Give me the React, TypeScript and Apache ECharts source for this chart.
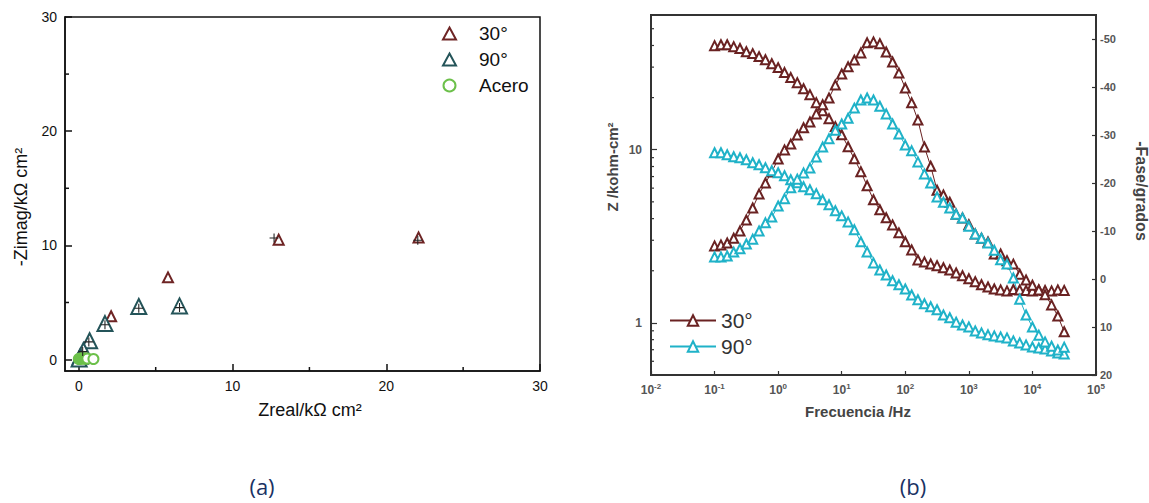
import React, { useEffect, useRef } from 'react';
import * as echarts from 'echarts';

// ---------- (a) Nyquist data (kΩ cm²) ----------
const nyq30 = [[22.1, 10.7], [13.0, 10.5], [5.8, 7.2], [2.1, 3.8]];
const nyq90 = [[6.55, 4.7], [3.9, 4.65], [1.7, 3.15], [0.7, 1.65], [0.3, 0.8], [0.1, 0.3], [0.02, 0.05]];
const nyqAcero = [[0.0, 0.05], [0.08, 0.1], [0.15, 0.1], [0.22, 0.1], [0.3, 0.12], [0.38, 0.1], [0.46, 0.1], [0.55, 0.1], [0.95, 0.05]];
const nyqFit = [[12.7, 10.65], [22.05, 10.45], [6.55, 4.55], [3.9, 4.5], [1.7, 3.05], [0.65, 1.55], [0.25, 0.7]];
const nyqTicks = [0, 10, 20, 30];
const nyqMinorTicks = [5, 15, 25];

// ---------- (b) Bode data ----------
const freq = [
  0.1, 0.126, 0.158, 0.2, 0.251, 0.316, 0.398, 0.501, 0.631, 0.794,
  1, 1.26, 1.58, 2, 2.51, 3.16, 3.98, 5.01, 6.31, 7.94,
  10, 12.6, 15.8, 20, 25.1, 31.6, 39.8, 50.1, 63.1, 79.4,
  100, 126, 158, 200, 251, 316, 398, 501, 631, 794,
  1000, 1260, 1580, 2000, 2510, 3160, 3980, 5010, 6310, 7940,
  10000, 12600, 15800, 20000, 25100, 31600,
];
const z30 = [
  39.9, 40.4, 40.4, 39.4, 38.4, 36.8, 35.9, 34.5, 33.1, 31.4,
  29.8, 27.9, 26.1, 24.4, 22.5, 20.8, 18.7, 16.8, 15.1, 13.6,
  12.2, 10.4, 8.87, 7.46, 6.19, 5.14, 4.5, 4.05, 3.68, 3.31,
  2.94, 2.64, 2.31, 2.25, 2.19, 2.14, 2.08, 2.02, 1.94, 1.87,
  1.8, 1.73, 1.66, 1.61, 1.57, 1.55, 1.53, 1.56, 1.55, 1.54,
  1.53, 1.55, 1.54, 1.53, 1.55, 1.54,
];
const phase30 = [
  6.9, 7.1, 7.5, 8.5, 10.0, 12.3, 14.8, 17.7, 20.0, 22.3,
  25.0, 26.9, 28.1, 30.0, 31.5, 32.7, 34.4, 36.3, 37.7, 40.4,
  42.7, 44.2, 45.6, 47.1, 49.2, 49.4, 49.0, 47.3, 45.2, 42.9,
  39.8, 36.7, 33.1, 27.5, 23.5, 18.5, 17.5, 16.0, 13.5, 12.7,
  11.3, 9.4, 8.5, 7.7, 5.2, 5.2, 3.8, 3.1, 1.0, -0.2,
  -1.3, -2.3, -3.3, -5.4, -7.7, -11.0,
];
const z90 = [
  9.61, 9.61, 9.36, 9.11, 8.99, 8.75, 8.41, 8.19, 7.87, 7.56,
  7.36, 7.08, 6.71, 6.45, 6.11, 5.87, 5.57, 5.14, 4.81, 4.44,
  4.15, 3.83, 3.45, 2.94, 2.57, 2.22, 2.02, 1.89, 1.75, 1.66,
  1.57, 1.45, 1.36, 1.29, 1.24, 1.19, 1.11, 1.07, 1.01, 0.973,
  0.948, 0.899, 0.875, 0.853, 0.841, 0.83, 0.819, 0.787, 0.766, 0.746,
  0.726, 0.716, 0.707, 0.689, 0.671, 0.662,
];
const phase90 = [
  4.6, 4.6, 4.8, 5.6, 6.3, 7.3, 8.3, 10.0, 11.7, 12.9,
  15.2, 16.7, 19.0, 20.8, 22.1, 23.1, 25.4, 27.5, 29.2, 31.0,
  32.3, 33.5, 35.6, 37.3, 37.7, 37.3, 36.0, 34.4, 32.3, 30.2,
  27.9, 26.7, 24.4, 21.9, 20.0, 17.1, 16.0, 14.8, 13.5, 12.7,
  11.0, 9.4, 8.5, 7.5, 6.0, 4.0, 3.1, 0.2, -4.2, -7.5,
  -10.0, -11.7, -13.1, -14.0, -14.8, -14.2,
];
const zMinorTicks = [0.6, 0.7, 0.8, 0.9, 2, 3, 4, 5, 6, 7, 8, 9, 20, 30, 40, 50];

const FONT = '"Liberation Sans", Arial, sans-serif';
const C30 = '#6a2222';
const C90 = '#1fb2c8';
const N30 = '#6e2424';
const N90 = '#245459';
const ACERO = '#6cc04a';
const legendNames: Record<string, string> = { N30: '30°', N90: '90°', Acero: 'Acero' };

function minorTick(kind: 'x' | 'y', len: number, color: string, width: number) {
  return (params: any, api: any) => {
    const cs = params.coordSys;
    const p = api.coord([api.value(0), api.value(1)]);
    const shape =
      kind === 'x'
        ? { x1: p[0], y1: cs.y + cs.height, x2: p[0], y2: cs.y + cs.height - len }
        : { x1: cs.x, y1: p[1], x2: cs.x + len, y2: p[1] };
    return { type: 'line', shape, style: { stroke: color, lineWidth: width } };
  };
}

const pair = (ys: number[]) => freq.map((f, i) => [f, ys[i]]);

function buildOption(): any {
  const boldLbl = { color: '#555', fontSize: 12, fontWeight: 'bold', fontFamily: FONT };
  const lineSeries = (name: string, color: string, data: number[], yIdx: number) => ({
    type: 'line',
    name,
    xAxisIndex: 1,
    yAxisIndex: yIdx,
    data: pair(data),
    symbol: 'emptyTriangle',
    symbolSize: 9,
    showSymbol: true,
    lineStyle: { color, width: 1 },
    itemStyle: { color, borderColor: color, borderWidth: 1.7, opacity: 1 },
    emphasis: { disabled: true },
    silent: true,
    z: 3,
  });
  return {
    animation: false,
    backgroundColor: '#ffffff',
    textStyle: { fontFamily: FONT },
    grid: [
      { left: 65, top: 17, width: 475, height: 354, show: true, borderColor: '#111', borderWidth: 1.5, outerBoundsMode: 'none', containLabel: false },
      { left: 651, top: 15, width: 445, height: 360, show: true, borderColor: '#333', borderWidth: 2, outerBoundsMode: 'none', containLabel: false },
    ],
    xAxis: [
      {
        gridIndex: 0, type: 'value', min: -0.9, max: 30,
        axisLine: { show: true, onZero: false, lineStyle: { color: '#111', width: 1.5 } },
        axisTick: { show: true, inside: true, length: 7, customValues: nyqTicks, lineStyle: { color: '#111', width: 1.5 } },
        axisLabel: { customValues: nyqTicks, color: '#111', fontSize: 14, margin: 8, fontFamily: FONT },
        splitLine: { show: false },
      },
      {
        gridIndex: 1, type: 'log', logBase: 10, min: 0.01, max: 100000, splitNumber: 7,
        axisLine: { show: true, onZero: false, lineStyle: { color: '#333', width: 2 } },
        axisTick: { show: true, inside: true, length: 4, lineStyle: { color: '#333', width: 1.2 } },
        axisLabel: {
          margin: 7,
          formatter: (v: number) => {
            const e = Math.round(Math.log10(v));
            return `{b|10}{s|${e}}`;
          },
          rich: {
            b: { ...boldLbl, fontSize: 12 },
            s: { ...boldLbl, fontSize: 8, padding: [0, 0, 7, 0] },
          },
        },
        splitLine: { show: false },
        minorTick: { show: false },
      },
    ],
    yAxis: [
      {
        gridIndex: 0, type: 'value', min: -1, max: 30,
        axisLine: { show: true, onZero: false, lineStyle: { color: '#111', width: 1.5 } },
        axisTick: { show: true, inside: true, length: 7, customValues: nyqTicks, lineStyle: { color: '#111', width: 1.5 } },
        axisLabel: { customValues: nyqTicks, color: '#111', fontSize: 14, margin: 8, fontFamily: FONT },
        splitLine: { show: false },
      },
      {
        gridIndex: 1, type: 'log', logBase: 10, min: 0.5, max: 60, splitNumber: 2,
        axisLine: { show: true, onZero: false, lineStyle: { color: '#333', width: 2 } },
        axisTick: { show: true, inside: true, length: 6, lineStyle: { color: '#333', width: 1.2 } },
        axisLabel: { ...boldLbl, margin: 9, showMinLabel: false, showMaxLabel: false, formatter: (v: number) => String(Math.round(v)) },
        splitLine: { show: false },
      },
      {
        gridIndex: 1, type: 'value', position: 'right', min: -20, max: 55, interval: 10,
        axisLine: { show: true, onZero: false, lineStyle: { color: '#333', width: 2 } },
        axisTick: { show: true, inside: true, length: 4, lineStyle: { color: '#333', width: 1.2 } },
        axisLabel: { ...boldLbl, fontSize: 11, margin: 4, showMaxLabel: false, formatter: (v: number) => (v === 0 ? '0' : String(-v)) },
        splitLine: { show: false },
      },
    ],
    legend: [
      {
        data: ['N30', 'N90', 'Acero'],
        formatter: (n: string) => legendNames[n] ?? n,
        orient: 'vertical', left: 437, top: 19, itemWidth: 13, itemHeight: 12, itemGap: 7,
        textStyle: { fontSize: 19, color: '#111', fontFamily: FONT, padding: [0, 0, 0, 18] },
        itemStyle: { opacity: 1 },
        selectedMode: false,
      },
      {
        data: ['30°', '90°'],
        orient: 'vertical', left: 664, top: 305, itemWidth: 46, itemHeight: 13, itemGap: 5,
        textStyle: { fontSize: 21, color: '#333', fontFamily: FONT },
        selectedMode: false,
      },
    ],
    series: [
      { type: 'custom', name: 'nxMinor', xAxisIndex: 0, yAxisIndex: 0, silent: true, data: nyqMinorTicks.map((v) => [v, 0]), renderItem: minorTick('x', 4, '#111', 1.5) },
      { type: 'custom', name: 'nyMinor', xAxisIndex: 0, yAxisIndex: 0, silent: true, data: nyqMinorTicks.map((v) => [0, v]), renderItem: minorTick('y', 4, '#111', 1.5) },
      { type: 'custom', name: 'zMinor', xAxisIndex: 1, yAxisIndex: 1, silent: true, data: zMinorTicks.map((v) => [1, v]), renderItem: minorTick('y', 3, '#333', 1.2) },
      {
        type: 'scatter', name: 'N30', xAxisIndex: 0, yAxisIndex: 0, data: nyq30,
        symbol: 'emptyTriangle', symbolSize: 10, itemStyle: { color: N30, borderColor: N30, borderWidth: 1.6, opacity: 1 }, silent: true,
      },
      {
        type: 'scatter', name: 'N90', xAxisIndex: 0, yAxisIndex: 0, data: nyq90,
        symbol: 'emptyTriangle', symbolSize: 15, itemStyle: { color: N90, borderColor: N90, borderWidth: 1.8, opacity: 1 }, silent: true,
      },
      {
        type: 'scatter', name: 'Acero', xAxisIndex: 0, yAxisIndex: 0, data: nyqAcero,
        symbol: 'emptyCircle', symbolSize: 10, itemStyle: { color: ACERO, borderColor: ACERO, borderWidth: 1.8, opacity: 1 }, silent: true,
      },
      {
        type: 'scatter', name: 'ajuste', xAxisIndex: 0, yAxisIndex: 0, data: nyqFit,
        symbol: 'path://M4.4,0H5.6V4.4H10V5.6H5.6V10H4.4V5.6H0V4.4H4.4Z', symbolSize: 9,
        itemStyle: { color: '#222', opacity: 1 }, silent: true, z: 4,
      },
      lineSeries('30°', C30, z30, 1),
      lineSeries('30°', C30, phase30, 2),
      lineSeries('90°', C90, z90, 1),
      lineSeries('90°', C90, phase90, 2),
    ],
    graphic: [
      { type: 'text', x: 21, y: 207, rotation: Math.PI / 2, style: { text: '-Zimag/kΩ cm²', fill: '#111', font: `18px ${FONT}`, align: 'center', verticalAlign: 'middle' } },
      { type: 'text', x: 310, y: 410, style: { text: 'Zreal/kΩ cm²', fill: '#111', font: `18px ${FONT}`, align: 'center', verticalAlign: 'middle' } },
      { type: 'text', x: 612, y: 167, rotation: Math.PI / 2, style: { text: 'Z /kohm-cm²', fill: '#444', font: `bold 15px ${FONT}`, align: 'center', verticalAlign: 'middle' } },
      { type: 'text', x: 1141, y: 191, rotation: -Math.PI / 2, style: { text: '-Fase/grados', fill: '#444', font: `bold 16px ${FONT}`, align: 'center', verticalAlign: 'middle' } },
      { type: 'text', x: 858, y: 411, style: { text: 'Frecuencia /Hz', fill: '#444', font: `bold 15px ${FONT}`, align: 'center', verticalAlign: 'middle' } },
      { type: 'text', x: 262, y: 486, style: { text: '(a)', fill: '#1a3263', font: `22px "Open Sans", sans-serif`, align: 'center', verticalAlign: 'middle' } },
      { type: 'text', x: 913, y: 486, style: { text: '(b)', fill: '#1a3263', font: `22px "Open Sans", sans-serif`, align: 'center', verticalAlign: 'middle' } },
    ],
  };
}

export default function App() {
  const ref = useRef<HTMLDivElement>(null);
  useEffect(() => {
    if (!ref.current) return;
    const chart = echarts.init(ref.current, null, { renderer: 'svg' });
    chart.setOption(buildOption());
    return () => chart.dispose();
  }, []);
  return (
    <div
      ref={ref}
      style={{ position: 'absolute', left: 0, top: 0, width: 1149, height: 503, background: '#fff' }}
    />
  );
}
